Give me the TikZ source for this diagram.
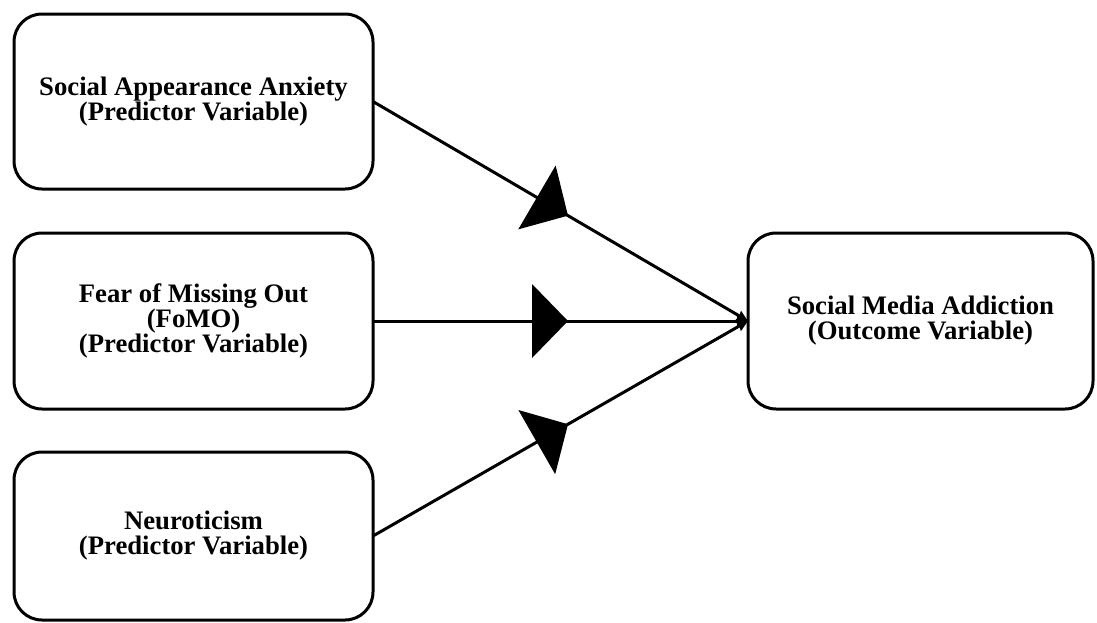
\documentclass[tikz,border=0pt]{standalone}
\usepackage{fontspec}
\setmainfont{Liberation Serif}
\usetikzlibrary{arrows.meta,decorations.markings}
\tikzset{
  varbox/.style={draw,line width=3pt,rounded corners=28pt,minimum width=359pt,
    minimum height=175pt,inner sep=0pt,outer sep=0pt,align=center,
    font=\fontsize{26.7}{25}\selectfont\bfseries},
  link/.style={line width=3pt,-{Stealth[length=11pt,width=10pt,inset=1pt]},
    postaction={decorate,decoration={markings,
      mark=at position 0.52 with {\fill (0pt,0pt) -- (-36pt,37pt) -- (-36pt,-37pt) -- cycle;}}}}
}
\begin{document}
\begin{tikzpicture}[x=1pt,y=-1pt]
  \useasboundingbox (0,0) rectangle (1097,622);
  \node[varbox] (saa) at (193.5,101.5) {Social Appearance Anxiety\\(Predictor Variable)};
  \node[varbox,minimum height=176pt] (fomo) at (193.5,321) {Fear of Missing Out\\(FoMO)\\(Predictor Variable)};
  \node[varbox,minimum height=168pt] (neu) at (193.5,536) {Neuroticism\\(Predictor Variable)};
  \node[varbox,minimum width=345pt,minimum height=176pt] (sma) at (920.5,321) {Social Media Addiction\\(Outcome Variable)};
  \foreach \n in {saa,fomo,neu} \draw[link] (\n.east) -- (sma.west);
\end{tikzpicture}
\end{document}
